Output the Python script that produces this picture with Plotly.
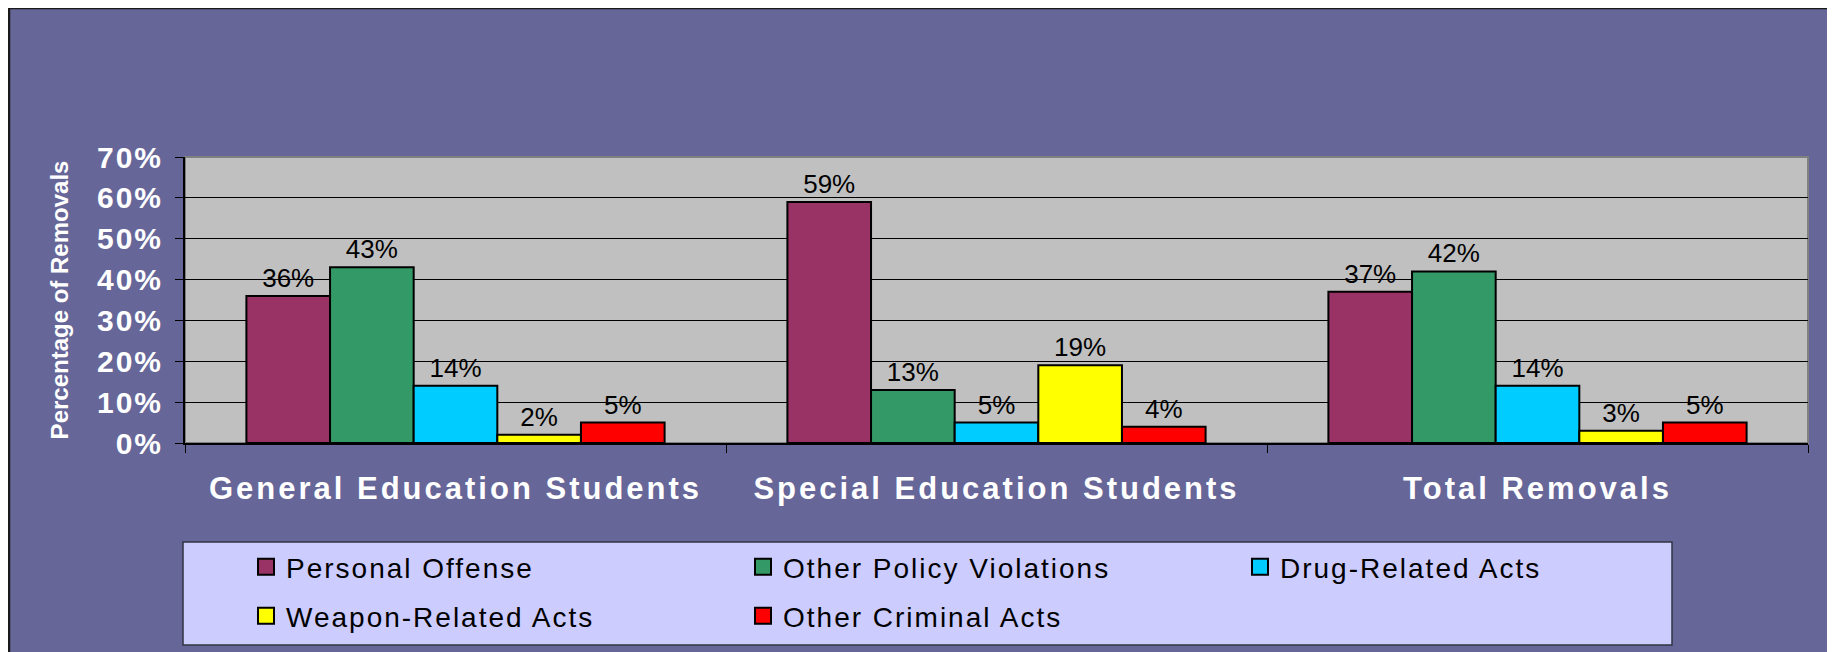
import plotly.graph_objects as go

# ---- data ----
categories = ["General Education Students", "Special Education Students", "Total Removals"]
personal_offense = [36, 59, 37]
other_policy_violations = [43, 13, 42]
drug_related_acts = [14, 5, 14]
weapon_related_acts = [2, 19, 3]
other_criminal_acts = [5, 4, 5]

series_names = ["Personal Offense", "Other Policy Violations", "Drug-Related Acts",
                "Weapon-Related Acts", "Other Criminal Acts"]
series_colors = ["#993366", "#339966", "#00CCFF", "#FFFF00", "#FF0000"]
y_tick_values = [0, 10, 20, 30, 40, 50, 60, 70]
y_tick_labels = ["0%", "10%", "20%", "30%", "40%", "50%", "60%", "70%"]
y_title = "Percentage of Removals"

series_values = [personal_offense, other_policy_violations, drug_related_acts,
                 weapon_related_acts, other_criminal_acts]
legend_ids = ["legend", "legend", "legend", "legend2", "legend2"]

FONT = "Arial, 'Liberation Sans', sans-serif"
W, H = 1835, 652
OFF = 8  # page body margin
L, R, T, B = 177, 35, 149, 217
PW, PH = W - L - R, H - T - B


def px_x(page_x):
    return (page_x - OFF - L) / PW


def px_y(page_y):
    return (H - B - (page_y - OFF)) / PH


fig = go.Figure()

for name, vals, col in zip(series_names, series_values, series_colors):
    fig.add_trace(go.Bar(
        x=categories, y=vals, name=name,
        marker=dict(color=col, line=dict(color="black", width=2)),
        texttemplate="%{y}%", textposition="outside",
        textfont=dict(family=FONT, size=26, color="black"),
        constraintext="none", cliponaxis=False, showlegend=False,
        hoverinfo="skip",
    ))

# legend entries
for name, col, lg in zip(series_names, series_colors, legend_ids):
    fig.add_trace(go.Scatter(
        x=[None], y=[None], mode="markers", name=name, legend=lg,
        marker=dict(symbol="square", size=16, color=col,
                    line=dict(color="black", width=2)),
        showlegend=True, hoverinfo="skip",
    ))

shapes = [
    # outer purple frame
    dict(type="rect", xref="paper", yref="paper",
         x0=px_x(9), x1=px_x(1833), y0=px_y(670), y1=px_y(8),
         fillcolor="#666699", line=dict(color="#1a1a1a", width=2.5), layer="below"),
    # plot area background
    dict(type="rect", xref="paper", yref="paper", x0=0, x1=1, y0=0, y1=1,
         fillcolor="#C0C0C0", line=dict(color="#808080", width=2), layer="below"),
    # legend box
    dict(type="rect", xref="paper", yref="paper",
         x0=px_x(183), x1=px_x(1672), y0=px_y(645), y1=px_y(542),
         fillcolor="#CCCCFF", line=dict(color="#333344", width=1.5), layer="below"),
]

legend_common = dict(
    orientation="h", xanchor="left", yanchor="middle",
    bgcolor="rgba(0,0,0,0)", borderwidth=0,
    font=dict(family=FONT, size=28, color="black"),
    entrywidth=452, entrywidthmode="pixels", traceorder="normal",
    itemclick=False, itemdoubleclick=False,
)

fig.update_layout(
    width=W, height=H,
    margin=dict(l=L, r=R, t=T, b=B, autoexpand=False),
    paper_bgcolor="white", plot_bgcolor="rgba(0,0,0,0)",
    barmode="group", bargap=0.227, bargroupgap=0,
    shapes=shapes,
    legend=dict(x=px_x(246), y=px_y(567), **legend_common),
    legend2=dict(x=px_x(246), y=px_y(616), **legend_common),
    xaxis=dict(
        type="category", tickson="boundaries", ticks="outside", ticklen=8,
        tickcolor="black", tickwidth=1, showline=True, linecolor="black", linewidth=2,
        showgrid=False, automargin=False, ticklabelstandoff=17,
        tickfont=dict(family=FONT, size=31, color="white", weight="bold"),
    ),
    yaxis=dict(
        range=[0, 70], tickvals=y_tick_values, ticktext=y_tick_labels,
        ticks="outside", ticklen=8, tickcolor="black", tickwidth=1,
        showline=True, linecolor="black", linewidth=2,
        showgrid=True, gridcolor="black", gridwidth=1, zeroline=False,
        automargin=False, ticklabelstandoff=6,
        tickfont=dict(family=FONT, size=30, color="white", weight="bold"),
        title=dict(text=y_title, standoff=28,
                   font=dict(family=FONT, size=24, color="white", weight="bold")),
    ),
    showlegend=True,
)

post = (
    "var s=document.createElement('style');"
    "s.innerHTML='.xtick text{letter-spacing:3px} .ytick text{letter-spacing:2px} "
    "svg g[class^=\"legend\"] text{letter-spacing:2px !important} "
    "svg text.legendtext{letter-spacing:2px !important}';"
    "document.head.appendChild(s);"
    "function sp(){document.querySelectorAll('svg text.legendtext, svg g[class^=\"legend\"] text')"
    ".forEach(function(t){t.style.setProperty('letter-spacing','2px','important');});}"
    "sp(); setTimeout(sp, 50); setTimeout(sp, 300); setTimeout(sp, 1000);"
)

fig.write_html("out.html", post_script=post)
